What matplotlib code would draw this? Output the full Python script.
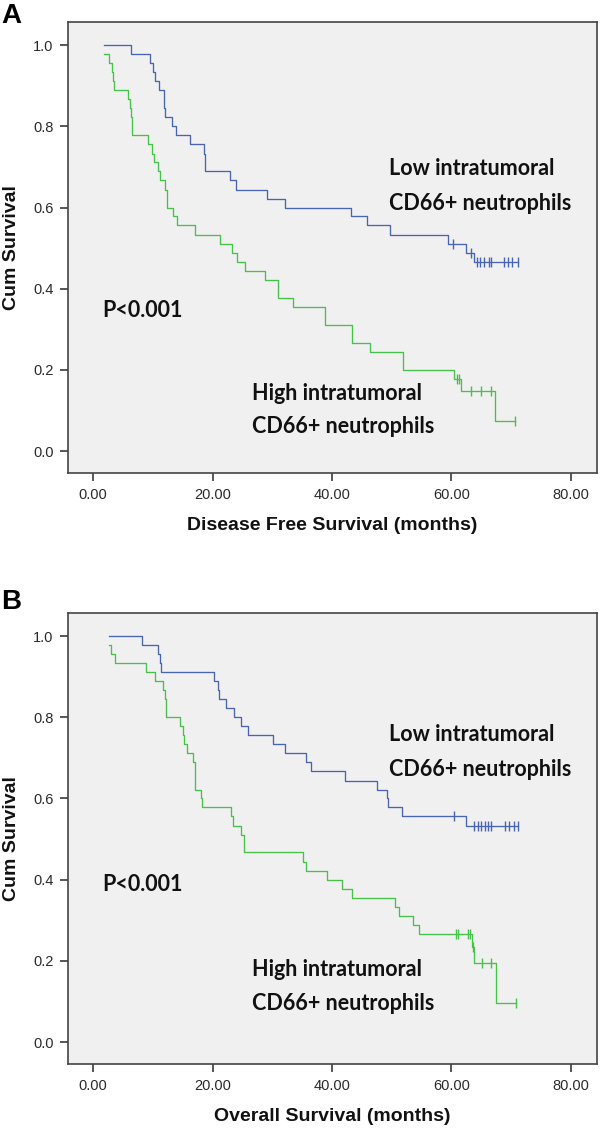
import numpy as np
import matplotlib
matplotlib.use("Agg")
import matplotlib.pyplot as plt

# Panel A: disease free survival
dfs_low_t = [1.8, 6.3, 9.5, 10.1, 10.4, 11.1, 11.8, 12.0, 13.2, 13.9, 16.2, 18.5, 18.7,
             22.9, 23.9, 29.2, 32.2, 43.2, 45.9, 49.7, 59.5, 62.5, 63.7]
dfs_low_s = [1.0, 0.978, 0.956, 0.933, 0.911, 0.889, 0.844, 0.822, 0.800, 0.778, 0.756,
             0.733, 0.689, 0.667, 0.644, 0.622, 0.600, 0.578, 0.556, 0.533, 0.511, 0.489, 0.466]
dfs_low_cens = [60.3, 63.2, 64.3, 64.8, 65.4, 66.3, 66.7, 68.8, 69.5, 70.2, 71.2]

dfs_high_t = [1.8, 2.7, 3.1, 3.3, 3.5, 5.8, 6.1, 6.3, 6.5, 9.2, 9.8, 10.2, 10.8, 11.2, 12.0,
              12.3, 13.3, 14.0, 17.1, 21.3, 23.2, 24.1, 25.4, 28.8, 31.0, 33.5, 38.8, 43.3,
              46.4, 51.9, 60.5, 61.6, 67.3]
dfs_high_s = [0.978, 0.956, 0.933, 0.911, 0.889, 0.867, 0.844, 0.822, 0.778, 0.756, 0.733,
              0.711, 0.689, 0.667, 0.644, 0.600, 0.578, 0.556, 0.533, 0.511, 0.489, 0.467,
              0.444, 0.422, 0.378, 0.356, 0.311, 0.267, 0.244, 0.200, 0.178, 0.148, 0.074]
dfs_high_cens = [61.0, 61.3, 63.3, 65.0, 66.6, 70.6]

# Panel B: overall survival
os_low_t = [2.7, 8.2, 10.9, 11.2, 11.4, 20.3, 20.9, 21.1, 22.3, 23.6, 24.7, 25.9, 30.1, 32.1,
            35.6, 36.5, 42.1, 47.6, 49.2, 49.3, 51.8, 62.4]
os_low_s = [1.0, 0.978, 0.956, 0.933, 0.911, 0.889, 0.867, 0.844, 0.822, 0.800, 0.778, 0.756,
            0.733, 0.711, 0.689, 0.667, 0.644, 0.622, 0.600, 0.578, 0.556, 0.532]
os_low_cens = [60.5, 63.8, 64.4, 64.9, 65.6, 66.2, 66.7, 69.0, 69.7, 70.4, 71.2]

os_high_t = [2.7, 3.0, 3.6, 8.9, 10.3, 11.7, 12.0, 12.2, 14.6, 15.0, 15.3, 15.7, 16.7, 17.0,
             17.1, 18.1, 18.2, 23.1, 23.4, 24.8, 25.3, 35.1, 35.6, 39.2, 41.6, 43.3, 50.6,
             51.2, 53.5, 54.5, 63.5, 63.7, 67.4]
os_high_s = [0.978, 0.956, 0.933, 0.911, 0.889, 0.867, 0.844, 0.800, 0.778, 0.756, 0.733,
             0.711, 0.689, 0.667, 0.622, 0.600, 0.578, 0.556, 0.533, 0.511, 0.467, 0.444,
             0.422, 0.400, 0.378, 0.356, 0.333, 0.311, 0.289, 0.267, 0.233, 0.194, 0.097]
os_high_cens = [60.8, 61.1, 62.7, 63.1, 63.6, 65.1, 66.6, 70.8]

x_ticks = [0, 20, 40, 60, 80]
y_ticks = [0.0, 0.2, 0.4, 0.6, 0.8, 1.0]

BLUE = "#4a64b4"
GREEN = "#46c24a"
TXT_FONT = ["Lato", "DejaVu Sans"]

plt.rcParams["font.family"] = ["Liberation Sans", "DejaVu Sans"]


def km(ax, t, s, cens, color):
    t = np.asarray(t, float)
    s = np.asarray(s, float)
    end = max(cens)
    xs = np.append(t, end)
    ys = np.append(s, s[-1])
    ax.step(xs, ys, where="post", color=color, lw=0.95)
    idx = np.searchsorted(t, cens, side="right") - 1
    ax.plot(cens, s[idx], ls="none", marker="|", ms=7, mew=1.0, color=color)


def panel(rect, letter, letter_y, low, high, xlabel, txt_y):
    ax = fig.add_axes(rect)
    ax.set_facecolor("#f0f0f0")
    km(ax, *high, GREEN)
    km(ax, *low, BLUE)
    ax.set_xlim(-4.2, 84.4)
    ax.set_ylim(-0.054, 1.057)
    ax.set_xticks(x_ticks)
    ax.set_xticklabels(["%.2f" % v for v in x_ticks])
    ax.set_yticks(y_ticks)
    ax.set_yticklabels(["%.1f" % v for v in y_ticks])
    ax.tick_params(direction="out", length=6, width=1.1, colors="#2a2a2a",
                   labelsize=10.5, pad=4.5)
    for sp in ax.spines.values():
        sp.set_color("#444444")
        sp.set_linewidth(1.2)
    ax.set_ylabel("Cum Survival", fontsize=14, fontweight="bold", color="#111111")
    ax.yaxis.set_label_coords(-0.106, 0.5)
    ax.yaxis.label.set_va("center")
    ax.set_xlabel(xlabel, fontsize=14, fontweight="bold", color="#111111")
    ax.xaxis.set_label_coords(0.5, -0.117)
    ax.xaxis.label.set_va("center")
    fig.text(0.002, letter_y, letter, fontsize=20, fontweight="bold", va="top", ha="left")

    # annotations (positions in data coordinates)
    ty_low1, ty_low2, ty_p, ty_high1, ty_high2 = txt_y
    kw = dict(fontsize=15.5, fontweight="bold", family=TXT_FONT, va="center", ha="left",
              color="#111111")
    ax.text(49.6, ty_low1, "Low intratumoral", **kw)
    ax.text(49.6, ty_low2, "CD66+ neutrophils", **kw)
    ax.text(1.6, ty_p, "P<0.001", **kw)
    ax.text(26.6, ty_high1, "High intratumoral", **kw)
    ax.text(26.6, ty_high2, "CD66+ neutrophils", **kw)
    return ax


fig = plt.figure(figsize=(6.0, 11.29), dpi=100)

panel([0.1133, 0.581, 0.882, 0.3995], "A", 0.997,
      (dfs_low_t, dfs_low_s, dfs_low_cens), (dfs_high_t, dfs_high_s, dfs_high_cens),
      "Disease Free Survival (months)",
      (0.695, 0.61, 0.347, 0.143, 0.06))

panel([0.1133, 0.0576, 0.882, 0.3995], "B", 0.478,
      (os_low_t, os_low_s, os_low_cens), (os_high_t, os_high_s, os_high_cens),
      "Overall Survival (months)",
      (0.758, 0.672, 0.388, 0.178, 0.096))

fig.savefig("out.png", dpi=100)
